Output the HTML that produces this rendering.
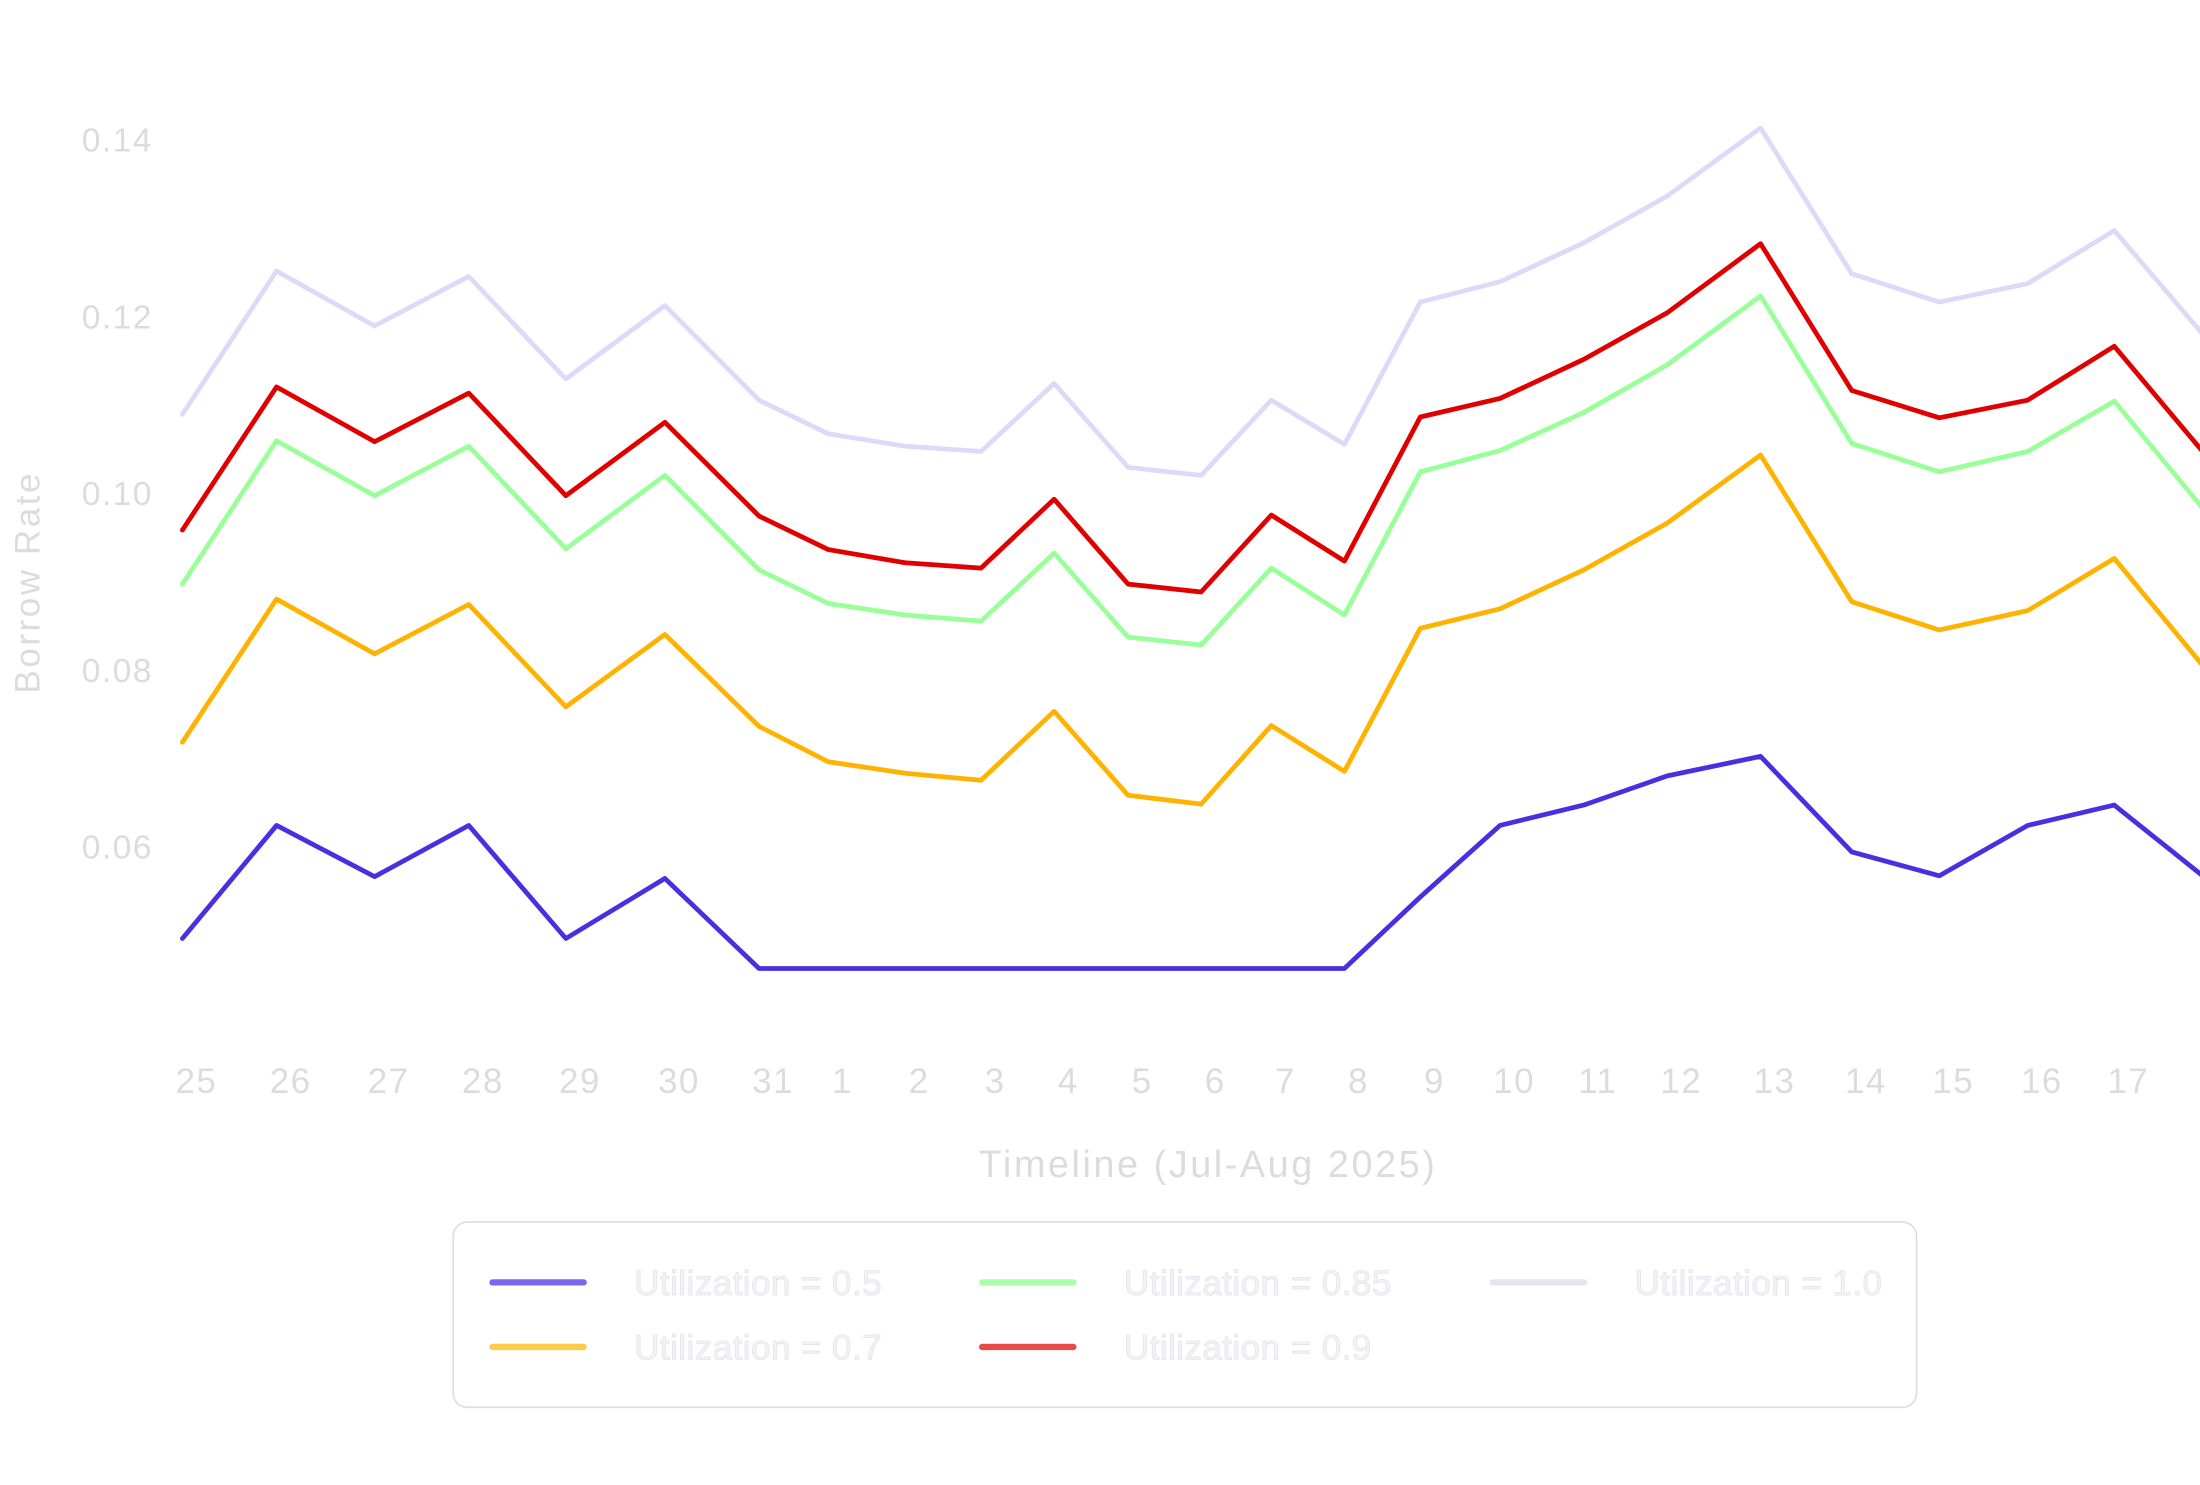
<!DOCTYPE html>
<html><head><meta charset="utf-8"><style>
html,body{margin:0;padding:0;background:#fff;}
svg{display:block;font-family:"Liberation Sans",sans-serif;}
</style></head><body>
<svg id="chart" width="2200" height="1485" viewBox="0 0 1568 1058.4" xmlns="http://www.w3.org/2000/svg">
<g id="yticks"></g>
<g id="xticks"></g>
<g id="series"></g>
<text x="0" y="0" transform="translate(28,415) rotate(-90)" text-anchor="middle" font-size="25" letter-spacing="1.8" fill="#dcdcdc">Borrow Rate</text>
<text x="861" y="839" text-anchor="middle" font-size="27" letter-spacing="1.8" fill="#dcdcdc">Timeline (Jul-Aug 2025)</text>
<g>
<rect x="323" y="871" width="1043" height="132" rx="10" fill="#fff" stroke="#dedede" stroke-width="1.2"/>
<g id="legend-items"></g>
</g>
</svg>
<script>
const dayLabels=["25","26","27","28","29","30","31","1","2","3","4","5","6","7","8","9","10","11","12","13","14","15","16","17",""];
const dayPos=[0,0.98,2.0,2.98,3.99,5.02,6.0,6.72,7.52,8.31,9.07,9.84,10.6,11.33,12.09,12.88,13.71,14.58,15.45,16.42,17.37,18.28,19.2,20.1,21.02];
const yTicks=[0.06,0.08,0.10,0.12,0.14];
const seriesNames=["Utilization = 0.5","Utilization = 0.7","Utilization = 0.85","Utilization = 0.9","Utilization = 1.0"];
const u05=[0.0497,0.0625,0.0567,0.0625,0.0497,0.0565,0.0463,0.0463,0.0463,0.0463,0.0463,0.0463,0.0463,0.0463,0.0463,0.0544,0.0625,0.0648,0.0681,0.0703,0.0595,0.0568,0.0625,0.0648,0.0568];
const u07=[0.0719,0.0881,0.0819,0.0875,0.0759,0.0841,0.0737,0.0697,0.0684,0.0676,0.0754,0.0659,0.0649,0.0738,0.0686,0.0848,0.0870,0.0914,0.0967,0.1044,0.0878,0.0846,0.0868,0.0927,0.0806];
const u085=[0.0898,0.1060,0.0998,0.1054,0.0938,0.1021,0.0914,0.0876,0.0863,0.0856,0.0933,0.0838,0.0829,0.0916,0.0863,0.1025,0.1049,0.1092,0.1146,0.1224,0.1057,0.1025,0.1048,0.1105,0.0984];
const u09=[0.0959,0.1121,0.1059,0.1114,0.0998,0.1081,0.0975,0.0937,0.0922,0.0916,0.0994,0.0898,0.0889,0.0976,0.0924,0.1087,0.1108,0.1152,0.1205,0.1283,0.1117,0.1086,0.1106,0.1167,0.1048];
const u10=[0.1090,0.1252,0.1190,0.1246,0.1130,0.1213,0.1106,0.1068,0.1054,0.1048,0.1125,0.1030,0.1021,0.1106,0.1056,0.1217,0.1240,0.1284,0.1337,0.1414,0.1249,0.1217,0.1238,0.1298,0.1181];

const NS="http://www.w3.org/2000/svg";
function xs(d){return 130+d*68.5;}
function ys(v){return 100+(0.14-v)*6300;}
function mk(tag,attrs,parent){const e=document.createElementNS(NS,tag);for(const k in attrs)e.setAttribute(k,attrs[k]);parent.appendChild(e);return e;}

const yg=document.getElementById('yticks');
yTicks.forEach(v=>{
  const t=mk('text',{x:109,y:ys(v)+8,'text-anchor':'end','font-size':24,'letter-spacing':1,fill:'#dcdcdc'},yg);
  
  
  t.textContent=v.toFixed(2);
});
const xg=document.getElementById('xticks');
dayLabels.forEach((l,i)=>{
  if(!l) return;
  const t=mk('text',{x:xs(dayPos[i])+10,y:779,'text-anchor':'middle','font-size':25,'letter-spacing':1,fill:'#dcdcdc'},xg);
  
  
  t.textContent=l;
});

const data=[u10,u085,u07,u05,u09];
const colors=["#dcdaf8","#99ff99","#ffb300","#4a2fe0","#e00000"];
const names=["line-util-1-0","line-util-0-85","line-util-0-7","line-util-0-5","line-util-0-9"];
const sg=document.getElementById('series');
data.forEach((arr,k)=>{
  const pts=arr.map((v,i)=>xs(dayPos[i]).toFixed(1)+','+ys(v).toFixed(1)).join(' ');
  const p=mk('polyline',{points:pts,fill:'none',stroke:colors[k],'stroke-width':3.4,'stroke-linejoin':'round','stroke-linecap':'round'},sg);
  
  
});

const legColors=["#7b68ee","#ffcc4a","#aaffaa","#e84a4a","#e4e4ee"];
const legPos=[[349,914],[349,960],[698,914],[698,960],[1062,914]];
const lg=document.getElementById('legend-items');
seriesNames.forEach((n,i)=>{
  const [x,y]=legPos[i];
  const g=mk('g',{},lg);
  
  
  mk('line',{x1:x+2,y1:y,x2:x+67,y2:y,stroke:legColors[i],'stroke-width':4.5,'stroke-linecap':'round'},g);
  const t=mk('text',{x:x+103,y:y+9,'font-size':25,'letter-spacing':0.3,fill:'#f2f2f7',stroke:'#e4e4ec','stroke-width':0.6},g);
  t.textContent=n;
});
</script>
</body></html>
